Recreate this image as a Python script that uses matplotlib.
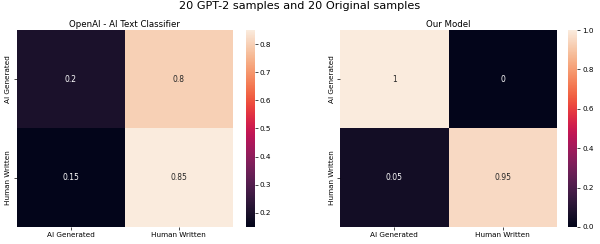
import numpy as np
import matplotlib
matplotlib.use("Agg")
import matplotlib.pyplot as plt
import seaborn as sns

# ============================================================================
# DATA
# ============================================================================
LABELS = ["AI Generated", "Human Written"]
OPENAI_CM = [[0.2, 0.8],
             [0.15, 0.85]]
OUR_CM = [[1, 0],
          [0.05, 0.95]]

SUPTITLE = "20 GPT-2 samples and 20 Original samples"
LEFT_TITLE = "OpenAI - AI Text Classifier"
RIGHT_TITLE = "Our Model"

# ============================================================================
# PLOT
# ============================================================================
fig = plt.figure(figsize=(6, 2.44), dpi=100)

ax_l = fig.add_axes([0.028, 0.070, 0.360, 0.807])
cax_l = fig.add_axes([0.410, 0.070, 0.015, 0.807])
ax_r = fig.add_axes([0.567, 0.070, 0.361, 0.807])
cax_r = fig.add_axes([0.947, 0.070, 0.015, 0.807])

for ax, cax, cm, title in [(ax_l, cax_l, OPENAI_CM, LEFT_TITLE),
                           (ax_r, cax_r, OUR_CM, RIGHT_TITLE)]:
    sns.heatmap(np.array(cm), annot=True, ax=ax, cbar_ax=cax,
                xticklabels=LABELS, yticklabels=LABELS,
                annot_kws={"fontsize": 5.5})
    ax.set_title(title, fontsize=6.2, pad=2)
    ax.tick_params(axis="both", labelsize=5.2, length=2, width=0.5, pad=2)
    plt.setp(ax.get_yticklabels(), rotation=90, va="center")
    cax.tick_params(labelsize=5.2, length=2, width=0.5, pad=1.5)

fig.suptitle(SUPTITLE, fontsize=8.1, y=0.995)

fig.savefig("out.png", dpi=100)
